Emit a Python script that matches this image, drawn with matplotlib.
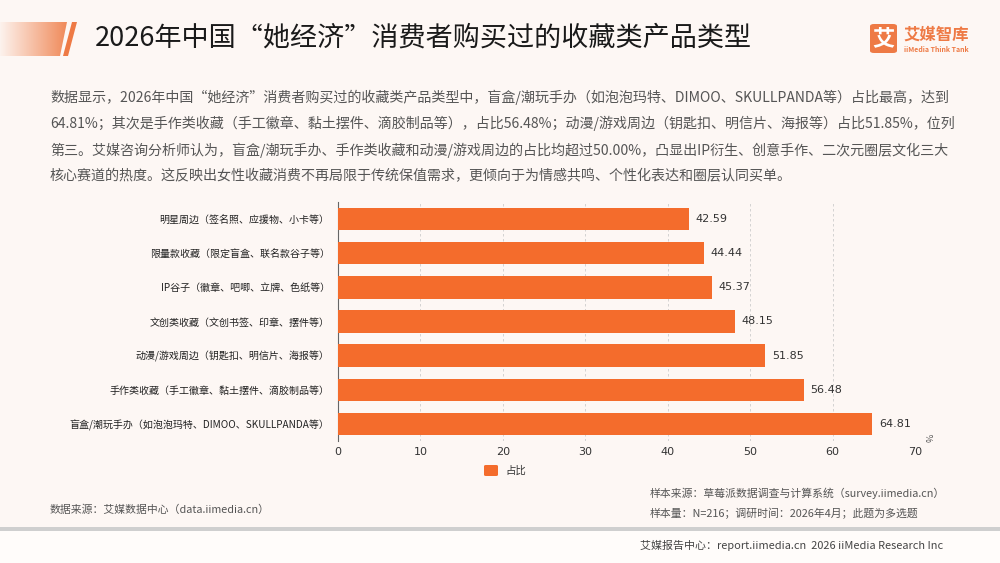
import matplotlib
matplotlib.use("Agg")
import matplotlib.pyplot as plt
from matplotlib.patches import Polygon, Rectangle, FancyBboxPatch
from matplotlib.colors import LinearSegmentedColormap
import numpy as np

plt.rcParams['font.family'] = ['Noto Sans CJK SC', 'DejaVu Sans']

categories = [
    "明星周边（签名照、应援物、小卡等）",
    "限量款收藏（限定盲盒、联名款谷子等）",
    "IP谷子（徽章、吧唧、立牌、色纸等）",
    "文创类收藏（文创书签、印章、摆件等）",
    "动漫/游戏周边（钥匙扣、明信片、海报等）",
    "手作类收藏（手工徽章、黏土摆件、滴胶制品等）",
    "盲盒/潮玩手办（如泡泡玛特、DIMOO、SKULLPANDA等）",
]
values = [42.59, 44.44, 45.37, 48.15, 51.85, 56.48, 64.81]
x_ticks = [0, 10, 20, 30, 40, 50, 60, 70]
series_name = "占比"

title = "2026年中国“她经济”消费者购买过的收藏类产品类型"
paragraph = [
    "数据显示，2026年中国“她经济”消费者购买过的收藏类产品类型中，盲盒/潮玩手办（如泡泡玛特、DIMOO、SKULLPANDA等）占比最高，达到",
    "64.81%；其次是手作类收藏（手工徽章、黏土摆件、滴胶制品等），占比56.48%；动漫/游戏周边（钥匙扣、明信片、海报等）占比51.85%，位列",
    "第三。艾媒咨询分析师认为，盲盒/潮玩手办、手作类收藏和动漫/游戏周边的占比均超过50.00%，凸显出IP衍生、创意手作、二次元圈层文化三大",
    "核心赛道的热度。这反映出女性收藏消费不再局限于传统保值需求，更倾向于为情感共鸣、个性化表达和圈层认同买单。",
]

BG = '#FDF7F4'
BAR = '#F46C2C'
ORANGE = '#EE7A45'
W, H = 1000, 563

fig = plt.figure(figsize=(10, 5.63), dpi=100, facecolor=BG)

def fx(px):
    return px / W

def fy(py):
    return 1 - py / H

# header decoration: gradient bar with slanted end + slash
grad = np.linspace(0, 1, 256).reshape(1, -1)
cmap = LinearSegmentedColormap.from_list('g', ['#FDF3EE', '#F08A5A'])
gax = fig.add_axes([0, fy(56), fx(67), (56 - 22) / H])
gax.imshow(grad, aspect='auto', cmap=cmap, extent=[0, 1, 0, 1])
gax.set_xlim(0, 1); gax.set_ylim(0, 1)
gax.axis('off')
fig.patches.append(Polygon([[fx(60), fy(56)], [fx(67), fy(22)], [fx(70), fy(22)], [fx(70), fy(56)]],
                           closed=True, transform=fig.transFigure, facecolor=BG, edgecolor='none', zorder=5))
fig.patches.append(Polygon([[fx(63), fy(56)], [fx(68), fy(56)], [fx(77), fy(22)], [fx(72), fy(22)]],
                           closed=True, transform=fig.transFigure, facecolor=ORANGE, edgecolor='none', zorder=6))

fig.text(fx(95), fy(38), title, fontsize=19.5, color='#1a1a1a', va='center', ha='left')

# logo
fig.patches.append(FancyBboxPatch((fx(870), fy(53)), fx(27), (53 - 24) / H,
                                  boxstyle='round,pad=0,rounding_size=0.004', transform=fig.transFigure,
                                  facecolor=ORANGE, edgecolor='none'))
fig.text(fx(883.5), fy(38.5), "艾", fontsize=16, color='white', ha='center', va='center', fontweight='bold')
fig.text(fx(903), fy(35), "艾媒智库", fontsize=11.8, color=ORANGE, ha='left', va='center', fontweight='bold')
fig.text(fx(904), fy(49), "iiMedia Think Tank", fontsize=5, color=ORANGE, ha='left', va='center', fontweight='bold')

# paragraph
for i, line in enumerate(paragraph):
    fig.text(fx(50), fy(97 + i * 26.5), line, fontsize=10.1, color='#555555', va='center', ha='left')

# main chart
ax = fig.add_axes([fx(338), fy(441), fx(915) - fx(338), (441 - 202) / H])
ax.set_facecolor('none')
y = np.arange(len(categories))
ax.barh(y, values, height=0.66, color=BAR, zorder=3)
ax.set_ylim(len(categories) - 0.5, -0.5)
ax.set_xlim(0, 70)
ax.set_xticks(x_ticks)
ax.set_xticklabels([str(t) for t in x_ticks], fontsize=8, color='#333333', family='DejaVu Sans')
ax.set_yticks(y)
ax.set_yticklabels(categories, fontsize=7.2, color='#222222')
ax.tick_params(axis='x', length=0, pad=4)
ax.tick_params(axis='y', length=0, pad=6)
for s in ['top', 'right', 'bottom']:
    ax.spines[s].set_visible(False)
ax.spines['left'].set_color('#666666')
ax.spines['left'].set_linewidth(0.8)
ax.grid(axis='x', linestyle=(0, (3, 3)), color='#cccccc', linewidth=0.6, zorder=0)
for v, yy in zip(values, y):
    ax.text(v + 0.8, yy, f"{v:.2f}", va='center', ha='left', fontsize=8, color='#333333', family='DejaVu Sans')
fig.text(fx(931), fy(438), "%", fontsize=6.5, color='#555555', rotation=90, ha='center', va='center')

# legend
fig.patches.append(FancyBboxPatch((fx(484), fy(476)), fx(14), 11 / H,
                                  boxstyle='round,pad=0,rounding_size=0.002', transform=fig.transFigure,
                                  facecolor=BAR, edgecolor='none'))
fig.text(fx(505), fy(470.5), series_name, fontsize=7.5, color='#333333', va='center', ha='left')

# footer
fig.text(fx(50), fy(510), "数据来源：艾媒数据中心（data.iimedia.cn）", fontsize=7.8, color='#555555', va='center')
fig.text(fx(650), fy(493), "样本来源：草莓派数据调查与计算系统（survey.iimedia.cn）", fontsize=7.8, color='#555555', va='center')
fig.text(fx(650), fy(513), "样本量：N=216；调研时间：2026年4月；此题为多选题", fontsize=7.8, color='#555555', va='center')
fig.patches.append(Rectangle((0, fy(531)), 1, 4 / H, transform=fig.transFigure, facecolor='#CFCFCF', edgecolor='none'))
fig.patches.append(Rectangle((0, 0), 1, fy(531), transform=fig.transFigure, facecolor='#FFFCFA', edgecolor='none', zorder=-1))
fig.text(fx(640), fy(545), "艾媒报告中心：report.iimedia.cn  2026 iiMedia Research Inc", fontsize=7.9, color='#444444', va='center')

fig.savefig('out.png', dpi=100, facecolor=BG)
